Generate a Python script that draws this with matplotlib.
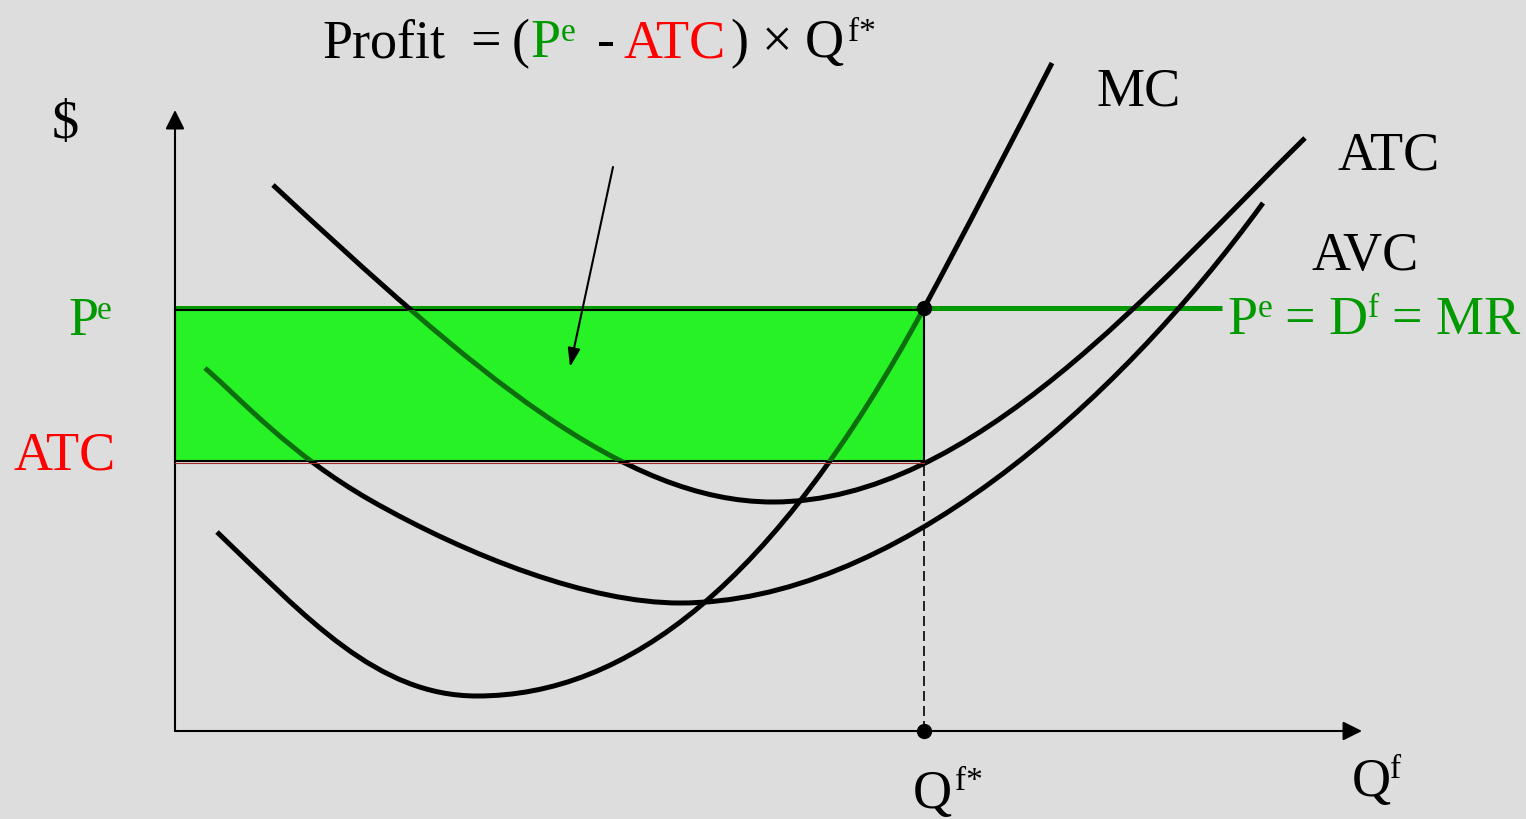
import matplotlib.pyplot as plt
from matplotlib.path import Path
from matplotlib.patches import PathPatch, Rectangle

# diagram units: origin at the corner of the axes, x = firm output, y = dollars
p_e = 423          # market price
atc_at_q = 270     # average total cost at the chosen output
q_star = 749       # profit maximising output (MR = MC)
y_axis_top = 621
x_axis_end = 1187
mr_line_end = 1047

# cubic bezier nodes: start point, then (ctrl, ctrl, end) for every segment
atc_nodes = [(98, 546), (298, 360), (448, 229), (598, 229),
             (798, 229), (980, 446), (1130, 593)]
avc_nodes = [(30, 363), (70, 328), (115, 277), (195, 231),
             (295, 174), (415, 128), (505, 128),
             (715, 128), (938, 322), (1088, 528)]
mc_nodes = [(42, 199), (132, 113), (202, 35), (302, 35),
            (452, 35), (599, 146), (749, 423),
            (789, 497), (837, 590), (877, 668)]

arrow_from = (438, 564)
arrow_to = (395, 364)

GREEN = '#009900'
RED = '#ff0000'
BIG = 39
SUP = 24

# (text, x, y, colour, size)
labels = [
    ('Profit', 147, 674, 'black', BIG), ('=', 295, 674, 'black', BIG),
    ('(', 337, 674, 'black', BIG), ('P', 355, 674, GREEN, BIG),
    ('e', 386, 690, GREEN, SUP), ('-', 422, 674, 'black', BIG),
    ('ATC', 449, 674, RED, BIG), (')', 555, 674, 'black', BIG),
    ('\u00d7', 587, 674, 'black', BIG), ('Q', 630, 674, 'black', BIG),
    ('f*', 673, 690, 'black', SUP),
    ('$', -123, 593, 'black', BIG),
    ('P', -107, 396, GREEN, BIG), ('e', -78, 412, GREEN, SUP),
    ('ATC', -162, 262, RED, BIG),
    ('MC', 922, 626, 'black', BIG),
    ('ATC', 1163, 561, 'black', BIG),
    ('AVC', 1136, 461, 'black', BIG),
    ('P', 1052, 397, GREEN, BIG), ('e', 1083, 414, GREEN, SUP),
    ('= D', 1110, 397, GREEN, BIG), ('f', 1193, 414, GREEN, SUP),
    ('= MR', 1217, 397, GREEN, BIG),
    ('Q', 738, -77, 'black', BIG), ('f*', 780, -59, 'black', SUP),
    ('Q', 1177, -65, 'black', BIG), ('f', 1215, -47, 'black', SUP),
]


def bezier(nodes):
    return Path(nodes, [Path.MOVETO] + [Path.CURVE4] * (len(nodes) - 1))


fig = plt.figure(figsize=(15.26, 8.19), dpi=100, facecolor='#dddddd')
ax = fig.add_axes([0, 0, 1, 1])
ax.set_xlim(-175, 1351)
ax.set_ylim(-88, 731)
ax.axis('off')

# MR line
ax.plot([0, mr_line_end], [p_e, p_e], color=GREEN, lw=3.6,
        solid_capstyle='butt', zorder=1.5)

for nodes in (atc_nodes, avc_nodes, mc_nodes):
    ax.add_patch(PathPatch(bezier(nodes), fill=False, ec='black', lw=3.6,
                           capstyle='butt', zorder=2))

# profit rectangle
rect = Rectangle((0, atc_at_q), q_star, p_e - 2 - atc_at_q,
                 facecolor='#26f226', edgecolor='black', lw=1.5, zorder=3)
ax.add_patch(rect)
for nodes in (atc_nodes, avc_nodes, mc_nodes):
    pp = PathPatch(bezier(nodes), fill=False, ec='#0d6e0d', lw=3.6,
                   capstyle='butt', zorder=4)
    ax.add_patch(pp)
    pp.set_clip_path(rect)
ax.plot([0, q_star], [atc_at_q - 1.5, atc_at_q - 1.5], color='#a52a2a',
        lw=0.8, zorder=3.1)

ax.plot([q_star, q_star], [0, atc_at_q], color='black', lw=1.2,
        ls=(0, (6, 3)), zorder=2)
ax.plot([q_star, q_star], [p_e, 0], 'o', color='black', ms=10, zorder=6)

# axes with arrow heads
head = '-|>,head_length=0.58,head_width=0.29'
ax.annotate('', xy=(0, y_axis_top), xytext=(0, 0),
            arrowprops=dict(arrowstyle=head, lw=1.5, color='black',
                            mutation_scale=20, shrinkA=0, shrinkB=0))
ax.annotate('', xy=(x_axis_end, 0), xytext=(0, 0),
            arrowprops=dict(arrowstyle=head, lw=1.5, color='black',
                            mutation_scale=20, shrinkA=0, shrinkB=0))
ax.annotate('', xy=arrow_to, xytext=arrow_from,
            arrowprops=dict(arrowstyle='-|>,head_length=0.75,head_width=0.25',
                            lw=1.5, color='black', mutation_scale=15,
                            shrinkA=0, shrinkB=0), zorder=7)

for s, x, y, c, fs in labels:
    ax.text(x, y, s, color=c, fontsize=fs, family='Liberation Serif',
            ha='left', va='baseline', zorder=8)

fig.savefig('out.png', dpi=100, facecolor=fig.get_facecolor())
